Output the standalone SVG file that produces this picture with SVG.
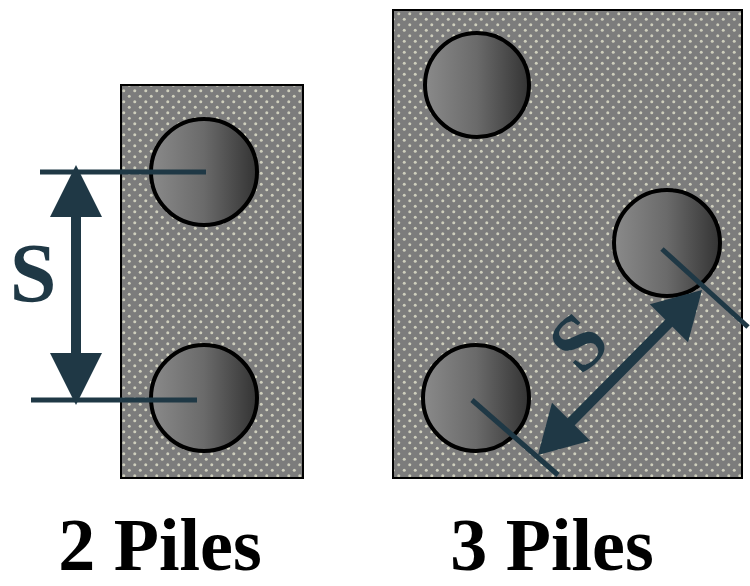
<svg xmlns="http://www.w3.org/2000/svg" width="750" height="586" viewBox="0 0 750 586">
<style>
.cap{fill:url(#dots);stroke:#000;stroke-width:2}
.pile{fill:url(#pg);stroke:#000;stroke-width:4}
.dim{stroke:#1f3845;stroke-width:5;fill:none}
.shaft{stroke:#1f3845;stroke-width:10;fill:none}
.head{fill:#1f3845}
.lbl{font-family:"Liberation Serif","Times New Roman",serif;font-weight:bold}
</style>
<defs>
<pattern id="dots" patternUnits="userSpaceOnUse" width="11" height="11">
<rect width="11" height="11" fill="#7c7c7c"/>
<circle cx="2.75" cy="2.75" r="1.5" fill="#cfcfbd"/>
<circle cx="8.25" cy="8.25" r="1.5" fill="#cfcfbd"/>
</pattern>
<linearGradient id="pg" x1="0" y1="0" x2="1" y2="0">
<stop offset="0" stop-color="#8a8a8a"/>
<stop offset="0.5" stop-color="#6a6a6a"/>
<stop offset="1" stop-color="#333"/>
</linearGradient>
</defs>
<g id="cap2">
<rect class="cap" x="121" y="85" width="182" height="393"/>
<circle class="pile" cx="204" cy="172" r="53"/>
<circle class="pile" cx="204" cy="398" r="53"/>
</g>
<g id="cap3">
<rect class="cap" x="393" y="10" width="349" height="468"/>
<circle class="pile" cx="477" cy="85" r="52"/>
<circle class="pile" cx="667" cy="243" r="53"/>
<circle class="pile" cx="476" cy="398" r="53"/>
</g>
<g id="connectors">
<line class="dim" x1="40" y1="172" x2="206" y2="172"/>
<line class="dim" x1="31" y1="400" x2="197" y2="400"/>
<line class="shaft" x1="76" y1="212" x2="76" y2="358"/>
<polygon class="head" points="76,165 50,217 102,217"/>
<polygon class="head" points="76,405 50,353 102,353"/>
<line class="dim" x1="662" y1="249" x2="748" y2="327"/>
<line class="dim" x1="472" y1="400" x2="558" y2="475"/>
<line class="shaft" x1="672" y1="320" x2="568" y2="425"/>
<polygon class="head" points="702,290 688,342.3 649.8,304.3"/>
<polygon class="head" points="538,455 590.2,440.7 552,402.7"/>
</g>
<g id="labels">
<text class="lbl" x="33" y="302" font-size="84" fill="#1f3845" text-anchor="middle">S</text>
<text class="lbl" font-size="80" fill="#1f3845" text-anchor="middle" transform="translate(578,342) rotate(-45)" x="0" y="27">S</text>
<text class="lbl" x="160" y="570" font-size="74" fill="#000" text-anchor="middle">2 Piles</text>
<text class="lbl" x="552" y="570" font-size="74" fill="#000" text-anchor="middle">3 Piles</text>
</g>
</svg>
